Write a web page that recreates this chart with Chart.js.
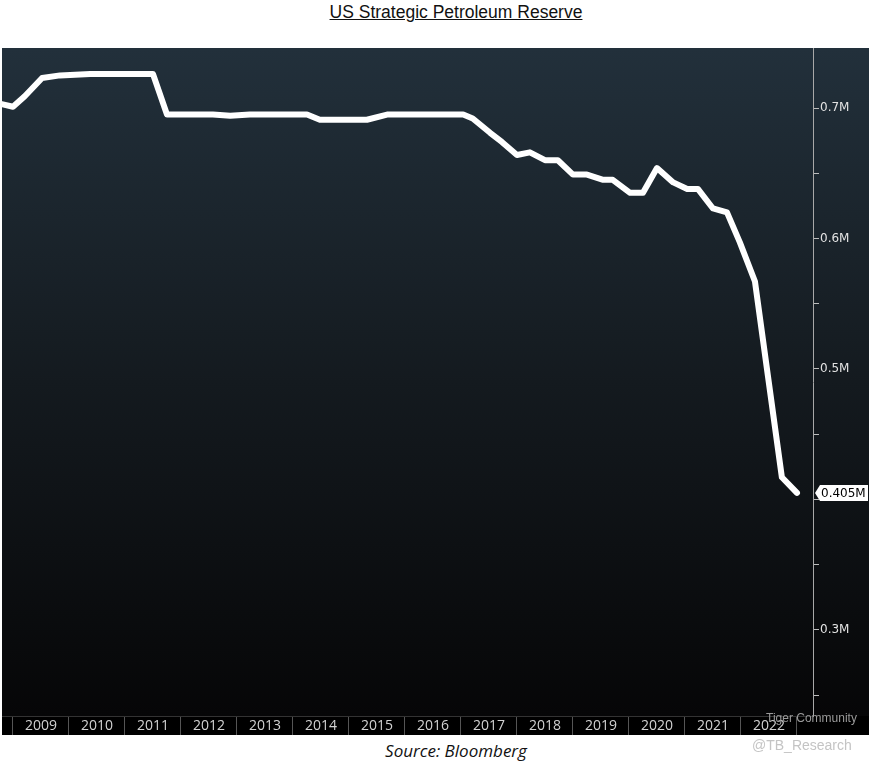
<!DOCTYPE html>
<html>
<head>
<meta charset="utf-8">
<script src="https://cdn.jsdelivr.net/npm/chart.js@4.4.0/dist/chart.umd.min.js"></script>
<style>
  body { margin: 0; background: #fff; width: 871px; height: 767px; position: relative; overflow: hidden; }
  #title { position: absolute; top: 2px; left: 0; width: 912px; text-align: center; font: 17.5px "Liberation Sans", sans-serif; color: #111; text-decoration: underline; }
  #box { position: absolute; top: 47px; left: 0; width: 871px; height: 690px; }
  #source { position: absolute; top: 739px; left: 0; width: 912px; text-align: center; font: italic 17px "Open Sans", sans-serif; color: #111; }
  #wm1 { position: absolute; top: 737px; left: 752px; font: 14px "Liberation Sans", sans-serif; color: #c4c4c4; }
  #wm2 { position: absolute; top: 711px; left: 766px; font: 12px "Liberation Sans", sans-serif; color: #9a9a9a; }
</style>
</head>
<body>
<div id="title">US Strategic Petroleum Reserve</div>
<div id="box"><canvas id="spr_chart"></canvas></div>
<div id="source">Source: Bloomberg</div>
<div id="wm2">Tiger Community</div>
<div id="wm1">@TB_Research</div>
<script>
/////////////////////////////////// DATA ///////////////////////////////////
// dates as fractional years, reserve in M
const dates = [2008.80, 2009.00, 2009.21, 2009.52, 2009.84, 2010.38, 2011.50, 2011.75,
  2012.57, 2012.88, 2013.23, 2014.25, 2014.48, 2015.32, 2015.68, 2017.04, 2017.21,
  2017.52, 2017.73, 2018.00, 2018.23, 2018.50, 2018.73, 2019.00, 2019.25, 2019.54,
  2019.71, 2020.02, 2020.25, 2020.50, 2020.79, 2021.04, 2021.23, 2021.50, 2021.75,
  2021.98, 2022.25, 2022.48, 2022.73, 2023.00];
const reserve = [0.703, 0.701, 0.709, 0.723, 0.725, 0.726, 0.726, 0.695,
  0.695, 0.694, 0.695, 0.695, 0.691, 0.691, 0.695, 0.695, 0.692,
  0.681, 0.674, 0.664, 0.666, 0.660, 0.660, 0.649, 0.649, 0.645,
  0.645, 0.635, 0.635, 0.654, 0.643, 0.638, 0.638, 0.623, 0.620,
  0.597, 0.567, 0.495, 0.417, 0.405];
const years = ['2009', '2010', '2011', '2012', '2013', '2014', '2015', '2016',
  '2017', '2018', '2019', '2020', '2021', '2022'];
const yTicks = [0.25, 0.3, 0.35, 0.4, 0.45, 0.5, 0.55, 0.6, 0.65, 0.7];
const yLabels = ['', '0.3M', '', '', '', '0.5M', '', '0.6M', '', '0.7M'];
const lastLabel = '0.405M';

/////////////////////////////////// PLUGINS ///////////////////////////////////
const backdrop = {
  id: 'backdrop',
  beforeDraw(chart) {
    const { ctx, chartArea } = chart;
    const g = ctx.createLinearGradient(0, chartArea.top, 0, chartArea.bottom);
    g.addColorStop(0, '#22303b');
    g.addColorStop(0.5, '#141a1f');
    g.addColorStop(1, '#060607');
    ctx.save();
    ctx.fillStyle = g;
    ctx.fillRect(chartArea.left, chartArea.top, chart.width - 2 - chartArea.left, chartArea.bottom - chartArea.top);
    ctx.fillStyle = '#000';
    ctx.fillRect(chartArea.left, chartArea.bottom, chart.width - 2 - chartArea.left, 19);
    ctx.restore();
  }
};

const lastValue = {
  id: 'lastValue',
  afterDraw(chart) {
    const { ctx } = chart;
    const y = chart.scales.y.getPixelForValue(reserve[reserve.length - 1]);
    const x = chart.chartArea.right + 2;
    ctx.save();
    ctx.fillStyle = '#fff';
    ctx.beginPath();
    ctx.moveTo(x, y);
    ctx.lineTo(x + 5, y - 8);
    ctx.lineTo(x + 53, y - 8);
    ctx.lineTo(x + 53, y + 8);
    ctx.lineTo(x + 5, y + 8);
    ctx.closePath();
    ctx.fill();
    ctx.fillStyle = '#000';
    ctx.font = '12px "DejaVu Sans"';
    ctx.textBaseline = 'middle';
    ctx.fillText(lastLabel, x + 6, y + 1);
    ctx.restore();
  }
};

/////////////////////////////////// CHART ///////////////////////////////////
const points = dates.map((d, i) => ({ x: d, y: reserve[i] }));

new Chart(document.getElementById('spr_chart'), {
  type: 'line',
  data: {
    datasets: [{
      data: points,
      borderColor: '#ffffff',
      borderWidth: 6,
      pointRadius: 0,
      tension: 0,
      borderJoinStyle: 'round',
      borderCapStyle: 'round',
      clip: false
    }]
  },
  options: {
    responsive: true,
    maintainAspectRatio: false,
    animation: false,
    layout: { padding: { left: 2, right: 2, top: 1, bottom: 2 } },
    plugins: { legend: { display: false }, tooltip: { enabled: false } },
    scales: {
      x: {
        type: 'linear',
        min: 2008.804,
        max: 2023.286,
        afterBuildTicks: (s) => {
          const t = [];
          for (let i = 0; i <= years.length; i++) {
            t.push({ value: 2009 + i });
            if (i < years.length) t.push({ value: 2009.5 + i });
          }
          s.ticks = t;
        },
        afterFit: (s) => { s.height = 19; s.paddingLeft = 0; s.paddingRight = 0; },
        grid: {
          drawOnChartArea: false,
          drawTicks: true,
          tickLength: 19,
          tickColor: (c) => (c.tick && Number.isInteger(c.tick.value)) ? '#555' : 'rgba(0,0,0,0)'
        },
        border: { display: true, color: '#333' },
        ticks: {
          padding: -17,
          autoSkip: false,
          maxRotation: 0,
          color: '#d2d2d2',
          font: { family: 'Open Sans', size: 14 },
          callback: (v) => Number.isInteger(v) ? '' : years[Math.floor(v) - 2009]
        }
      },
      y: {
        position: 'right',
        min: 0.234,
        max: 0.746,
        afterBuildTicks: (s) => { s.ticks = yTicks.map(v => ({ value: v })); },
        afterFit: (s) => { s.width = 56; s.paddingTop = 0; s.paddingBottom = 0; },
        grid: {
          drawOnChartArea: false,
          tickLength: 6,
          tickColor: '#bdbdbd'
        },
        border: { display: true, color: '#a8a8a8', width: 1 },
        ticks: {
          padding: 1,
          color: '#e2e2e2',
          font: { family: 'DejaVu Sans', size: 12 },
          callback: (v, i) => yLabels[i]
        }
      }
    }
  },
  plugins: [backdrop, lastValue]
});
</script>
</body>
</html>
